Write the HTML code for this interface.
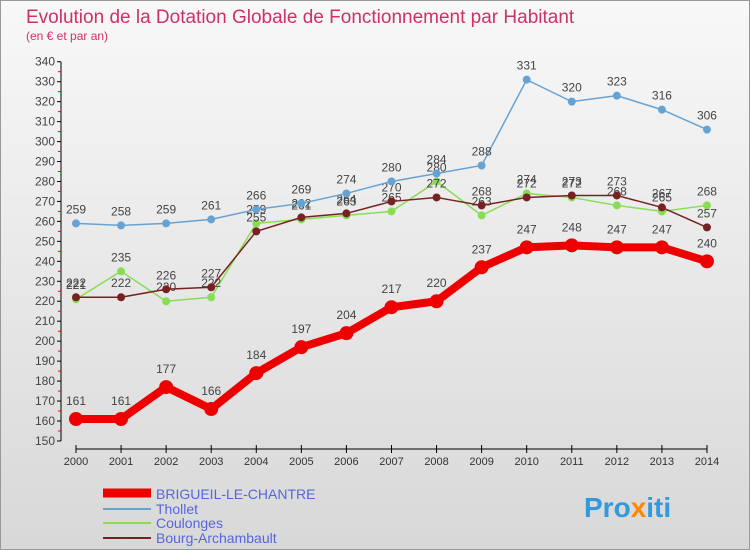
<!DOCTYPE html>
<html><head><meta charset="utf-8">
<style>
body{margin:0;}
#wrap{width:748px;height:548px;border:1px solid #999;background:linear-gradient(#f8f8f8,#d8d8d8);position:relative;font-family:"Liberation Sans",sans-serif;overflow:hidden}
</style></head>
<body>
<div id="wrap">
<svg id="chart" width="748" height="548" style="position:absolute;left:0;top:0">
<text x="25" y="22" font-size="19" fill="#d0306a">Evolution de la Dotation Globale de Fonctionnement par Habitant</text>
<text x="25" y="39" font-size="12" fill="#d0306a">(en € et par an)</text>
<g id="axes"></g><g id="series"></g>
<g>
<line x1="102" y1="492" x2="150" y2="492" stroke="#ee0000" stroke-width="9"/>
<text x="155" y="498" font-size="14" fill="#5566dd">BRIGUEIL-LE-CHANTRE</text>
<line x1="102" y1="508" x2="150" y2="508" stroke="#66a3d2" stroke-width="2"/>
<text x="155" y="513" font-size="14" fill="#5566dd">Thollet</text>
<line x1="102" y1="522" x2="150" y2="522" stroke="#88dd55" stroke-width="2"/>
<text x="155" y="527" font-size="14" fill="#5566dd">Coulonges</text>
<line x1="102" y1="537" x2="150" y2="537" stroke="#772222" stroke-width="2"/>
<text x="155" y="542" font-size="14" fill="#5566dd">Bourg-Archambault</text>
</g>
<text x="583" y="516" font-size="28" font-weight="bold" fill="#3399dd">Pro<tspan fill="#ff8800">x</tspan>iti</text>
</svg>
</div>
<script>
const years=[2000,2001,2002,2003,2004,2005,2006,2007,2008,2009,2010,2011,2012,2013,2014];
const brigueil=[161,161,177,166,184,197,204,217,220,237,247,248,247,247,240];
const thollet=[259,258,259,261,266,269,274,280,284,288,331,320,323,316,306];
const coulonges=[221,235,220,222,259,261,263,265,280,263,274,272,268,265,268];
const bourg=[222,222,226,227,255,262,264,270,272,268,272,273,273,267,257];
const yTicks=[150,160,170,180,190,200,210,220,230,240,250,260,270,280,290,300,310,320,330,340];
const NS='http://www.w3.org/2000/svg';
const X=i=>75+i*45.07, Y=v=>420-(v-160)*1.996;
function mk(t,a,p){const e=document.createElementNS(NS,t);for(const k in a)e.setAttribute(k,a[k]);p.appendChild(e);return e;}
const ax=document.getElementById('axes'), se=document.getElementById('series');
let l=mk('line',{x1:60,y1:Y(340),x2:60,y2:Y(150),stroke:'#000'},ax);

l=mk('line',{x1:X(0),y1:448,x2:X(14),y2:448,stroke:'#000'},ax);

yTicks.forEach(v=>{mk('line',{x1:56,y1:Y(v),x2:60,y2:Y(v),stroke:'#000'},ax);
 if(v<340)mk('line',{x1:57,y1:Y(v+5),x2:60,y2:Y(v+5),stroke:'#f00'},ax);
 const t=mk('text',{x:54,y:Y(v)+4,'text-anchor':'end','font-size':12,fill:'#444'},ax);t.textContent=v;
 });
years.forEach((y,i)=>{mk('line',{x1:X(i),y1:444,x2:X(i),y2:452,stroke:'#000'},ax);
 const t=mk('text',{x:X(i),y:464,'text-anchor':'middle','font-size':11,fill:'#333'},ax);t.textContent=y;
 });
function series(d,c,w,r,name){
 const g=mk('g',{},se);
 mk('polyline',{points:d.map((v,i)=>X(i)+','+Y(v)).join(' '),fill:'none',stroke:c,'stroke-width':w},g);
 d.forEach((v,i)=>{const p=mk('circle',{cx:X(i),cy:Y(v),r:r,fill:c},g);
  
  const t=mk('text',{x:X(i),y:Y(v)-10-(r>5?4:0),'text-anchor':'middle','font-size':12,fill:'#444'},g);t.textContent=v;});
}
series(coulonges,'#88dd55',1.5,4,'series-coulonges');
series(bourg,'#772222',1.5,4,'series-bourg');
series(thollet,'#66a3d2',1.5,4,'series-thollet');
series(brigueil,'#ee0000',8,7,'series-brigueil');
</script>
</body></html>
